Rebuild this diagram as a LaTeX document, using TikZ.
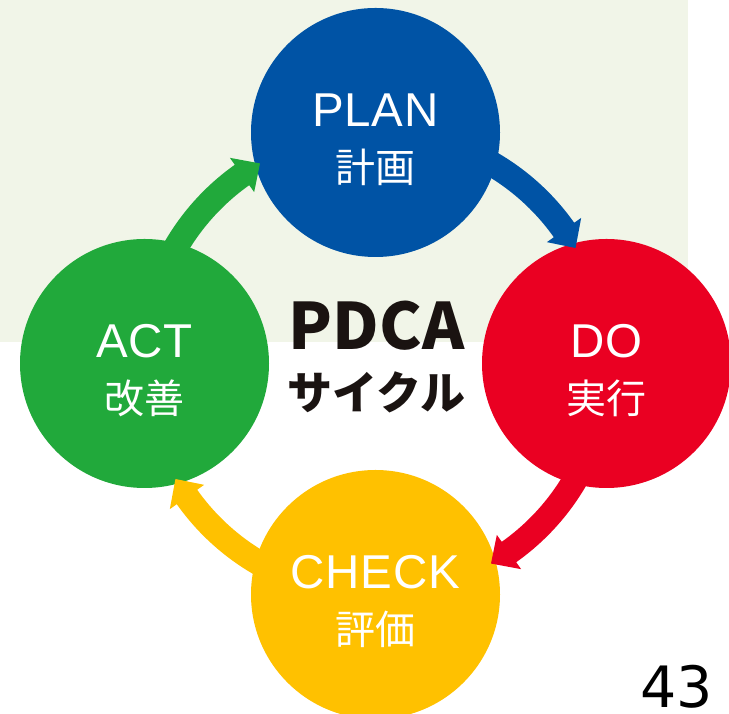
\documentclass[tikz,border=0pt]{standalone}
\usepackage{fontspec}
\setmainfont{Liberation Sans}
\newfontfamily\jpfont{Noto Sans CJK JP}
\newfontfamily\latfont[LetterSpace=2]{Liberation Sans}
\newfontfamily\numfont{DejaVu Sans}
\definecolor{bgcol}{HTML}{F1F5E8}
\definecolor{planblue}{HTML}{0053A5}
\definecolor{dored}{HTML}{EA0022}
\definecolor{checkyel}{HTML}{FFC100}
\definecolor{actgreen}{HTML}{21A93B}
\definecolor{titleblk}{HTML}{1A1311}
\newcommand\pdcaarrow[3]{%
  \pgfmathsetmacro\pdcahb{#2+5.3}%
  \fill[#3] ([shift={(#1:243.5)}]O) arc[start angle=#1,end angle=\pdcahb,radius=243.5]
    -- ([shift={(\pdcahb:252)}]O) -- ([shift={(#2:231)}]O) -- ([shift={(\pdcahb:210)}]O)
    -- ([shift={(\pdcahb:218.5)}]O) arc[start angle=\pdcahb,end angle=#1,radius=218.5] -- cycle;}
\tikzset{
  stage/.style={circle, minimum size=249pt, inner sep=0pt},
  captxt/.style={text=white, inner sep=0pt, anchor=base, font=\latfont\fontsize{47.5}{50}\selectfont},
  jptxt/.style={text=white, inner sep=0pt, anchor=center, font=\jpfont\fontsize{40}{44}\selectfont},
}
\begin{document}
\begin{tikzpicture}[x=1pt,y=1pt]
\clip (0,0) rectangle (729,714);
\fill[white] (0,0) rectangle (729,714);
\fill[bgcol] (0,372) rectangle (688,714);
\coordinate (O) at (375.5,350.5);
% stages
\node[stage, fill=planblue] (plan) at (375.5,581.5) {};
\node[stage, fill=dored] (do) at (606.5,350.5) {};
\node[stage, fill=checkyel] (check) at (375.5,119.5) {};
\node[stage, fill=actgreen] (act) at (144.5,350.5) {};
% arrows
\pdcaarrow{64}{30}{planblue}
\pdcaarrow{334}{300}{dored}
\pdcaarrow{244}{210}{checkyel}
\pdcaarrow{154}{120}{actgreen}
% labels
\node[captxt] (planen) at ([yshift=6pt]plan.center) {PLAN};
\node[jptxt] (planjp) at ([yshift=-34.5pt]plan.center) {計画};
\node[captxt] (doen) at ([yshift=6pt]do.center) {DO};
\node[jptxt] (dojp) at ([yshift=-34.5pt]do.center) {実行};
\node[captxt] (checken) at ([yshift=6pt]check.center) {CHECK};
\node[jptxt] (checkjp) at ([yshift=-34.5pt]check.center) {評価};
\node[captxt] (acten) at ([yshift=6pt]act.center) {ACT};
\node[jptxt] (actjp) at ([yshift=-34.5pt]act.center) {改善};
% title
\node[text=titleblk, inner sep=0pt, anchor=base, font=\jpfont\bfseries\fontsize{64}{68}\selectfont] (title) at (376.5,364) {PDCA};
\node[text=titleblk, inner sep=0pt, anchor=center, font=\jpfont\bfseries\fontsize{45}{50}\selectfont] (subtitle) at (376.5,322) {サイクル};
% page number
\node[text=black, inner sep=0pt, anchor=base, font=\numfont\fontsize{57}{60}\selectfont] (pagenum) at (676.5,6) {43};
\end{tikzpicture}
\end{document}
